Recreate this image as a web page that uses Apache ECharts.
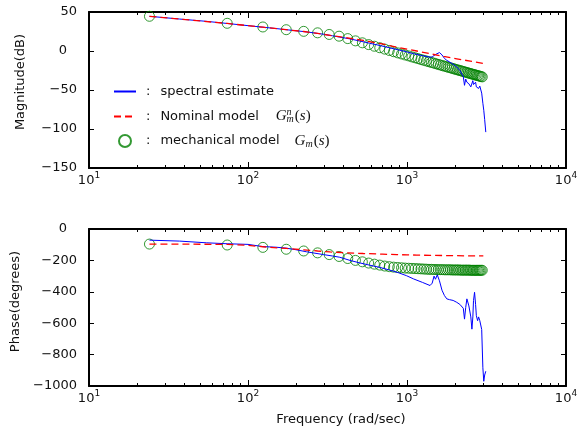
<!DOCTYPE html>
<html><head><meta charset="utf-8">
<script src="https://cdn.jsdelivr.net/npm/echarts@6/dist/echarts.min.js"></script>
<style>html,body{margin:0;padding:0;background:#fff}#c{width:588px;height:432px}</style>
</head><body><div id="c"></div>
<script>
// ---------- data ----------
const freqSpec = [24,37,55,74,100,124,150,174,200,233,260,298,340,378,438,500,580,677,780,880,991,1100,1250,1396,1440,1480,1510,1550,1600,1660,1720,1780,1850,1950,2055,2150,2260,2300,2340,2380,2450,2520,2560,2595,2620,2660,2700,2730,2780,2820,2870,2950,3000,3040,3080,3130];
const magSpec = [44.5,41,38,35.3,32.5,30.5,28.8,27.3,26,24.5,23.2,21.5,19.5,17.8,15.5,13,10,7,4,1.5,-1,-3.5,-6,-8,-7.5,-6,-4.5,-3,-2,-5,-9.5,-12,-14,-17,-20.5,-25,-33,-44,-36,-40,-42,-46,-48,-38,-43,-45,-40,-46,-44,-48,-45,-54,-67,-76,-88,-104];
const phaseSpec = [-71,-77,-88,-94,-98,-112,-116,-122,-132,-145,-153,-163,-172,-180,-200,-215,-230,-245,-262,-278,-297,-318,-340,-360,-345,-300,-320,-292,-330,-390,-424,-445,-450,-455,-467,-480,-505,-574,-500,-445,-490,-560,-638,-560,-456,-403,-480,-552,-584,-560,-584,-640,-884,-970,-930,-906];

const freqNom = [24,50,74,100,124,174,224,274,328,400,531,700,861,1000,1151,1396,1700,2055,2500,3020];
const magNom = [44.5,38.5,35.3,32.5,30.5,27.3,25,22.5,20.1,17.5,13.5,9,5,2.5,0,-3.5,-7,-10,-13,-16];
const phaseNom = [-96,-97,-98,-104,-113,-124,-133,-140,-146,-151,-156,-160,-163,-165,-166,-168,-169,-170,-171,-171];

const freqMech = [24,74,124,174,224,274,324,374,424,474,524,574,624,674,724,774,824,874,924,974,1024,1074,1124,1174,1224,1274,1324,1374,1424,1474,1524,1574,1624,1674,1724,1774,1824,1874,1924,1974,2024,2074,2124,2174,2224,2274,2324,2374,2424,2474,2524,2574,2624,2674,2724,2774,2824,2874,2924,2974];
const magMech = [44.5,35.5,30.8,27.3,25.2,23.3,21.2,19.0,15.9,13.0,10.5,8.2,6.1,4.2,2.4,0.7,-0.9,-2.4,-3.8,-5.1,-6.3,-7.6,-8.7,-9.8,-10.9,-11.9,-12.8,-13.8,-14.7,-15.5,-16.4,-17.2,-18.0,-18.8,-19.5,-20.2,-20.9,-21.6,-22.2,-22.9,-23.5,-24.2,-24.7,-25.3,-25.9,-26.5,-27.0,-27.5,-28.1,-28.6,-29.1,-29.6,-30.1,-30.5,-31.0,-31.5,-31.9,-32.3,-32.8,-33.2];
const phaseMech = [-96,-102,-117,-129,-140,-152,-163,-175,-188,-200,-209,-217,-224,-230,-236,-240,-243,-245,-247,-249,-250,-251,-252,-253,-254,-255,-256,-257,-257,-258,-258,-259,-259,-259,-260,-260,-260,-260,-261,-261,-261,-261,-261,-262,-262,-262,-262,-262,-262,-262,-263,-263,-263,-263,-263,-263,-263,-263,-263,-263];

// ---------- ticks ----------
const xTickValues = [10,100,1000,10000];
const xTickExps = ['1','2','3','4'];
const xMinorTicks = [20,30,40,50,60,70,80,90,200,300,400,500,600,700,800,900,2000,3000,4000,5000,6000,7000,8000,9000];
const magRange = {min:-150, max:50, interval:50};
const phaseRange = {min:-1000, max:0, interval:200};

const FONT = 'DejaVu Sans';
const TXT = '#111';
const CLEAR = 'rgba(0,0,0,0)';
const pairs = (xs, ys) => xs.map((x, i) => [x, ys[i]]);

function xLabelFmt(v) {
  let k = 0;
  for (let i = 0; i < xTickValues.length; i++) {
    if (Math.abs(Math.log10(v) - Math.log10(xTickValues[i])) < 1e-6) k = i;
  }
  return '{b|10}{s|' + xTickExps[k] + '}';
}
function yLabelFmt(v) {
  if (v === 0) return '{z|0}';
  return v < 0 ? '\u2212' + Math.abs(v) : String(v);
}

function mkX(gridIndex, position, major, showLabels, name) {
  return {
    type: 'log', logBase: 10, gridIndex, position, min: 10, max: 10000,
    axisLine: {show: major, onZero: false, lineStyle: {color: '#000', width: 2}},
    axisTick: {show: true, inside: true, length: major ? 6 : 3,
      customValues: major ? xTickValues : xMinorTicks,
      lineStyle: {color: '#000', width: 1}},
    axisLabel: {show: showLabels, customValues: xTickValues, margin: 3, formatter: xLabelFmt,
      rich: {
        b: {fontFamily: FONT, fontSize: 13, color: TXT},
        s: {fontFamily: FONT, fontSize: 9, color: TXT, padding: [0, 0, 10, 0]}
      }},
    splitLine: {show: false}, minorTick: {show: false}, minorSplitLine: {show: false},
    name: name || '', nameLocation: 'middle', nameGap: 27,
    nameTextStyle: {fontFamily: FONT, fontSize: 13, color: TXT, padding: [0, 0, 0, 27]}
  };
}
function mkY(gridIndex, position, range, showLabels, name, namePad) {
  return {
    type: 'value', gridIndex, position, min: range.min, max: range.max, interval: range.interval,
    axisLine: {show: true, onZero: false, lineStyle: {color: '#000', width: 2}},
    axisTick: {show: true, inside: true, length: 5, lineStyle: {color: '#000', width: 1}},
    axisLabel: {show: showLabels, margin: 12, fontFamily: FONT, fontSize: 13, color: TXT,
      formatter: yLabelFmt,
      rich: {z: {fontFamily: FONT, fontSize: 13, color: TXT, padding: [0, 10, 0, 0]}}},
    splitLine: {show: false},
    name: name || '', nameLocation: 'middle', nameGap: 62,
    nameTextStyle: {fontFamily: FONT, fontSize: 13, color: TXT, padding: [0, 0, 0, namePad || 0]}
  };
}

const legendLabels = {
  'spectral estimate': '{c|:}{t|spectral estimate}',
  'Nominal model': '{c|:}{t|Nominal model}{g2|G}{sp|n}{sb|m}{pu|(}{pi|s}{pu|)}',
  'mechanical model': '{c|:}{t|mechanical model}{g3|G}{sb|m}{pu|(}{pi|s}{pu|)}'
};
const SERIF = 'Liberation Serif';

const chart = echarts.init(document.getElementById('c'), null, {renderer: 'canvas'});
chart.setOption({
  animation: false,
  backgroundColor: '#fff',
  grid: [
    {left: 89, right: 22, top: 12, height: 156, containLabel: false, outerBoundsMode: 'none'},
    {left: 89, right: 22, top: 229, height: 157, containLabel: false, outerBoundsMode: 'none'}
  ],
  xAxis: [
    mkX(0, 'bottom', true, true), mkX(0, 'bottom', false, false),
    mkX(0, 'top', true, false), mkX(0, 'top', false, false),
    mkX(1, 'bottom', true, true, 'Frequency (rad/sec)'), mkX(1, 'bottom', false, false),
    mkX(1, 'top', true, false), mkX(1, 'top', false, false)
  ],
  yAxis: [
    mkY(0, 'left', magRange, true, 'Magnitude(dB)', 16), mkY(0, 'right', magRange, false),
    mkY(1, 'left', phaseRange, true, 'Phase(degrees)', 12), mkY(1, 'right', phaseRange, false)
  ],
  legend: {
    orient: 'vertical', left: 108, top: 80, itemGap: 9, itemWidth: 22, itemHeight: 12,
    selectedMode: false,
    data: ['spectral estimate', 'Nominal model', 'mechanical model'],
    formatter: name => legendLabels[name],
    textStyle: {fontFamily: FONT, fontSize: 13, color: TXT,
      rich: {
        c: {fontFamily: FONT, fontSize: 13, color: TXT, height: 20, padding: [0, 10, 0, 5]},
        t: {fontFamily: FONT, fontSize: 13, color: TXT},
        g2: {fontFamily: SERIF, fontStyle: 'italic', fontSize: 15, color: TXT, padding: [0, 0, 0, 17]},
        g3: {fontFamily: SERIF, fontStyle: 'italic', fontSize: 15, color: TXT, padding: [0, 0, 0, 15]},
        sp: {fontFamily: SERIF, fontStyle: 'italic', fontSize: 10, color: TXT, width: 0, padding: [0, 0, 9, 0]},
        sb: {fontFamily: SERIF, fontStyle: 'italic', fontSize: 10, color: TXT, padding: [6, 1, 0, 0]},
        pu: {fontFamily: SERIF, fontSize: 15, color: TXT},
        pi: {fontFamily: SERIF, fontStyle: 'italic', fontSize: 15, color: TXT}
      }}
  },
  series: [
    {name: 'mechanical model', type: 'scatter', xAxisIndex: 0, yAxisIndex: 0,
      data: pairs(freqMech, magMech), symbol: 'circle', symbolSize: 10,
      itemStyle: {color: 'rgba(255,255,255,0)', borderColor: '#008000', borderWidth: 1}},
    {name: 'spectral estimate', type: 'line', xAxisIndex: 0, yAxisIndex: 0,
      data: pairs(freqSpec, magSpec), symbol: 'none', lineStyle: {color: '#0000ff', width: 1},
      itemStyle: {color: CLEAR, borderColor: CLEAR, borderWidth: 0}},
    {name: 'Nominal model', type: 'line', xAxisIndex: 0, yAxisIndex: 0,
      data: pairs(freqNom, magNom), symbol: 'none', lineStyle: {color: '#ff0000', width: 1.3, type: [7, 4]},
      itemStyle: {color: CLEAR, borderColor: CLEAR, borderWidth: 0}},
    {name: 'mechanical model', type: 'scatter', xAxisIndex: 4, yAxisIndex: 2,
      data: pairs(freqMech, phaseMech), symbol: 'circle', symbolSize: 10,
      itemStyle: {color: 'rgba(255,255,255,0)', borderColor: '#008000', borderWidth: 1}},
    {name: 'spectral estimate', type: 'line', xAxisIndex: 4, yAxisIndex: 2,
      data: pairs(freqSpec, phaseSpec), symbol: 'none', lineStyle: {color: '#0000ff', width: 1},
      itemStyle: {color: CLEAR, borderColor: CLEAR, borderWidth: 0}},
    {name: 'Nominal model', type: 'line', xAxisIndex: 4, yAxisIndex: 2,
      data: pairs(freqNom, phaseNom), symbol: 'none', lineStyle: {color: '#ff0000', width: 1.3, type: [7, 4]},
      itemStyle: {color: CLEAR, borderColor: CLEAR, borderWidth: 0}}
  ]
});
</script>
</body></html>
